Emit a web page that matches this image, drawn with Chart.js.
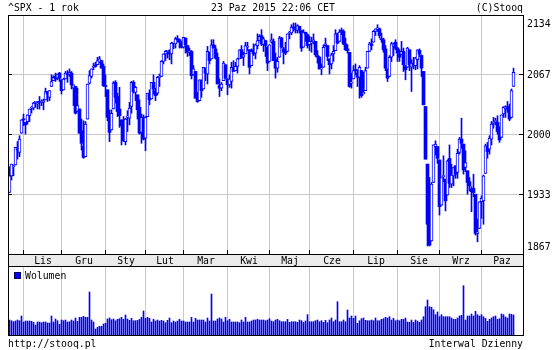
<!DOCTYPE html>
<html lang="pl">
<head>
<meta charset="UTF-8">
<title>^SPX - 1 rok</title>
<script src="https://cdn.jsdelivr.net/npm/chart.js"></script>
<style>
    body { margin: 0; background: #fff; }
    #wrap { position: relative; width: 560px; height: 350px; font-family: 'DejaVu Sans Mono', monospace; font-size: 9.8px; color: #000; }
    canvas { position: absolute; left: 0; top: 0; }
    .txt { position: absolute; white-space: pre; line-height: 12px; }
</style>
</head>
<body>
<div id="wrap">
    <canvas id="price_chart" width="560" height="350"></canvas>
    <canvas id="volume_chart" width="560" height="350"></canvas>
    <div class="txt" style="left:8px; top:2px;">^SPX - 1 rok</div>
    <div class="txt" style="left:211px; top:2px;">23 Paz 2015 22:06 CET</div>
    <div class="txt" style="right:37px; top:2px;">(C)Stooq</div>
    <div class="txt" style="left:25px; top:270px;">Wolumen</div>
    <div class="txt" style="left:8px; top:338px;">http://stooq.pl</div>
    <div class="txt" style="right:37px; top:338px;">Interwal Dzienny</div>
</div>

<script>
// daily OHLC, 23 Oct 2014 .. 23 Oct 2015 (one line per month)
const open = [
    1931,1951,1962,1964,1983,1979,2002,
    2019,2015,2016,2023,2032,2032,2039,2037,2040,2039,2039,2042,2052,2045,2058,2065,2070,2068,2074,
    2066,2054,2067,2073,2072,2074,2056,2058,2028,2031,2005,1986,1974,2019,2062,2070,2081,2083,2084,2087,2089,2082,
    2059,2054,2022,2006,2031,2063,2046,2031,2018,2014,1992,2021,2020,2034,2063,2051,2048,2033,2003,2020,
    1996,2022,2049,2043,2063,2053,2050,2069,2070,2088,2097,2100,2099,2097,2110,2109,2115,2114,2110,
    2105,2116,2107,2099,2100,2072,2076,2044,2041,2065,2055,2080,2073,2099,2091,2108,2103,2093,2059,2056,2065,2084,
    2067,2060,2064,2081,2077,2082,2091,2102,2093,2097,2105,2102,2083,2102,2098,2107,2113,2119,2108,2113,2105,
    2088,2111,2112,2091,2080,2093,2116,2103,2100,2100,2122,2122,2129,2127,2125,2130,2125,2105,2123,2120,
    2108,2110,2111,2112,2095,2093,2079,2081,2107,2107,2091,2085,2097,2101,2121,2112,2125,2124,2109,2103,2099,2062,
    2067,2078,2074,2069,2077,2049,2053,2080,2100,2109,2111,2124,2127,2127,2115,2114,2103,2079,2070,2093,2106,2111,
    2104,2097,2096,2100,2083,2081,2102,2081,2086,2083,2090,2101,2095,2076,2034,1965,1899,1873,1943,1986,1986,
    1970,1916,1950,1947,1928,1972,1941,1951,1963,1955,1979,1995,1989,1961,1957,1944,1935,1936,1929,1882,1888,
    1920,1921,1954,1986,1983,1995,2014,2016,2015,2004,1997,2025,2031,2033,2034,2021,2058
];
const high = [
    1962,1965,1964,1985,1992,1999,2018,
    2025,2015,2024,2031,2034,2039,2040,2040,2046,2042,2043,2056,2052,2053,2072,2071,2074,2073,2075,
    2066,2068,2076,2077,2079,2076,2060,2058,2056,2031,2019,2017,2016,2061,2077,2079,2086,2087,2093,2094,2089,2085,
    2072,2054,2030,2030,2064,2065,2050,2057,2018,2022,2020,2029,2039,2064,2065,2058,2048,2042,2025,2024,
    2022,2050,2054,2063,2072,2056,2070,2073,2089,2097,2101,2101,2102,2111,2111,2117,2119,2115,2112,
    2117,2116,2107,2104,2101,2083,2076,2051,2066,2066,2081,2080,2106,2099,2114,2114,2107,2098,2067,2063,2088,2084,
    2067,2072,2087,2089,2087,2092,2102,2107,2099,2111,2111,2102,2103,2109,2109,2121,2120,2126,2117,2113,2106,
    2108,2121,2115,2098,2093,2118,2117,2105,2111,2121,2124,2132,2134,2134,2132,2130,2125,2126,2123,2121,
    2118,2117,2121,2112,2101,2094,2085,2108,2116,2107,2091,2098,2107,2126,2122,2126,2128,2126,2116,2108,2099,2074,
    2083,2085,2078,2083,2077,2075,2081,2100,2111,2115,2125,2127,2132,2128,2122,2116,2107,2079,2095,2111,2110,2114,
    2105,2102,2112,2104,2083,2105,2102,2090,2093,2093,2102,2103,2096,2076,2034,1965,1949,1943,1988,1993,1986,
    1970,1948,1975,1947,1970,1988,1965,1961,1963,1983,1997,2020,1989,1981,1957,1949,1938,1953,1929,1899,1920,
    1927,1952,1989,1991,1999,2016,2021,2020,2023,2010,2024,2034,2035,2040,2037,2055,2080
];
const low = [
    1931,1946,1951,1964,1971,1974,2002,
    2011,2001,2013,2016,2026,2030,2033,2031,2031,2035,2030,2042,2040,2041,2058,2065,2064,2066,2064,
    2049,2054,2067,2063,2070,2055,2035,2025,2028,2002,1982,1972,1974,2019,2061,2068,2078,2081,2084,2086,2080,2058,
    2046,2017,1992,2006,2031,2038,2022,2009,1988,1992,1988,2004,2012,2026,2050,2041,2019,2001,1990,1994,
    1981,2022,2036,2043,2049,2041,2048,2058,2070,2085,2089,2092,2090,2085,2103,2104,2111,2104,2104,
    2104,2098,2094,2095,2067,2072,2044,2039,2041,2045,2055,2065,2061,2085,2091,2104,2091,2061,2046,2053,2065,2067,
    2048,2057,2056,2076,2077,2074,2091,2092,2083,2097,2101,2073,2083,2095,2091,2103,2113,2107,2100,2094,2077,
    2088,2110,2089,2068,2075,2093,2104,2085,2096,2100,2115,2120,2124,2122,2122,2122,2100,2105,2112,2104,
    2101,2099,2109,2094,2086,2079,2072,2081,2106,2089,2073,2079,2088,2101,2109,2112,2120,2108,2101,2098,2057,2056,
    2067,2072,2058,2044,2045,2049,2053,2080,2100,2102,2111,2119,2124,2116,2111,2099,2077,2064,2070,2088,2095,2102,
    2088,2088,2096,2076,2066,2081,2077,2052,2079,2078,2079,2094,2070,2036,1971,1867,1867,1873,1943,1976,1966,
    1904,1916,1944,1909,1928,1937,1937,1939,1948,1948,1977,1984,1953,1956,1929,1933,1908,1926,1880,1872,1888,
    1900,1893,1954,1972,1977,1988,2008,2012,2001,1991,1997,2021,2021,2027,2017,2021,2058
];
const close = [
    1951,1965,1962,1985,1982,1995,2018,
    2018,2012,2024,2031,2032,2038,2040,2038,2039,2040,2041,2052,2049,2053,2064,2069,2067,2073,2068,
    2053,2067,2074,2072,2075,2060,2060,2026,2035,2002,1990,1973,2013,2061,2071,2079,2082,2082,2089,2091,2080,2059,
    2058,2021,2003,2026,2062,2045,2028,2023,2011,1993,2019,2023,2032,2063,2052,2057,2030,2002,2021,1995,
    2021,2050,2042,2063,2055,2047,2069,2069,2088,2097,2100,2100,2097,2110,2110,2115,2114,2111,2105,
    2117,2108,2099,2101,2071,2079,2044,2040,2066,2053,2081,2074,2100,2089,2108,2104,2092,2061,2056,2061,2086,2068,
    2060,2067,2081,2076,2082,2091,2102,2092,2096,2107,2105,2081,2100,2097,2108,2113,2118,2109,2115,2107,2086,
    2108,2114,2089,2080,2088,2116,2105,2099,2098,2121,2123,2129,2128,2126,2131,2126,2104,2123,2121,2107,
    2112,2110,2114,2096,2093,2079,2080,2105,2109,2094,2084,2096,2100,2121,2110,2123,2124,2109,2102,2101,2058,2063,
    2077,2077,2069,2081,2047,2051,2077,2100,2109,2107,2124,2127,2128,2119,2114,2102,2080,2068,2093,2109,2109,2104,
    2098,2093,2100,2084,2078,2104,2084,2086,2083,2092,2102,2097,2080,2036,1971,1893,1868,1941,1988,1989,1972,
    1914,1949,1951,1921,1969,1942,1952,1961,1953,1978,1995,1990,1958,1967,1943,1939,1932,1931,1882,1884,1920,
    1924,1951,1987,1980,1996,2013,2015,2017,2004,1994,2024,2033,2034,2031,2019,2053,2075
];
// daily volume, mln
const volume = [
    3450,3290,3060,3220,3450,3290,4370,
    2990,3220,3220,3220,3150,2920,2300,2990,2990,2830,2990,2990,2760,2760,4370,2990,3680,3290,2460,
    3450,3290,3450,2990,3060,3450,3220,3910,3150,4070,4070,4300,4070,4070,9890,3450,2990,1380,1770,2000,2000,2530,
    2690,3680,3910,3520,3680,3290,3610,3750,4070,3610,4600,3680,3380,3840,3290,3290,3380,3610,4070,5520,
    3840,4070,3840,2990,3610,3220,3450,3220,3380,3220,2830,3380,3910,2830,3220,2990,3220,3610,3220,
    3220,2990,2990,2990,4070,2990,3840,3450,3450,3450,3450,2990,3910,3220,9430,3220,3220,3680,3910,3680,2990,4070,
    3290,3610,2990,2990,2990,2990,2830,3450,2990,4070,2990,2990,3220,3450,3450,3610,3450,3450,3450,3290,3450,
    3750,3220,3060,3450,3610,3290,3060,3060,3060,3610,2920,3060,3060,3060,2920,3450,3290,2920,3220,4670,
    3060,3060,3060,3290,3450,3060,3290,2920,3380,2830,3450,3910,3060,3450,7660,3060,3060,3450,3060,5750,3910,4370,
    3840,4370,2690,3290,3750,3910,3380,3290,3290,3450,3290,3910,3290,3290,3610,3750,4070,3910,4210,3450,3840,3290,
    3450,3290,3610,3610,3910,2990,2920,3450,2920,3450,3220,2920,3450,4210,6510,8050,6510,6370,5820,4670,5290,
    4210,4670,4210,4210,4210,4210,3910,3610,3610,3910,4370,4530,11340,3450,4370,4370,4830,4370,5450,4670,4370,
    4670,4210,3840,3150,3610,3910,4210,4370,3610,3750,4830,4670,4140,3910,4830,4760,4600
];
const monthStarts = [7, 26, 48, 68, 87, 109, 130, 150, 172, 194, 215, 236];
const monthLabels = ['Lis', 'Gru', 'Sty', 'Lut', 'Mar', 'Kwi', 'Maj', 'Cze', 'Lip', 'Sie', 'Wrz', 'Paz'];
const priceTicks = [2134, 2072, 2000.5, 1929, 1867];
const priceTickLabels = ['2134', '2067', '2000', '1933', '1867'];

const blue = '#0000ff';
const grid = '#c8c8c8';
const font = '9.8px "DejaVu Sans Mono", monospace';
const xRange = { type: 'linear', min: -0.75, max: 256.75, offset: false, display: false };

const isUp = i => close[i] >= open[i];
const bodies = close.map((c, i) => ({ x: i, y: [Math.min(open[i], c), Math.max(open[i], c)] }));
const wicks = high.map((h, i) => ({ x: i, y: [low[i], h] }));

// grid, frame, month band and price labels
const priceFrame = {
    id: 'priceFrame',
    beforeDatasetsDraw(chart) {
        const { ctx, chartArea: a, scales: { x, y } } = chart;
        ctx.save();
        ctx.fillStyle = grid;
        monthStarts.forEach(k => ctx.fillRect(Math.floor(x.getPixelForValue(k)), a.top, 1, a.bottom - a.top));
        for (let i = 1; i < priceTicks.length - 1; i++) {
            ctx.fillRect(a.left, Math.floor(y.getPixelForValue(priceTicks[i])), a.right - a.left, 1);
        }
        ctx.restore();
    },
    afterDraw(chart) {
        const { ctx, chartArea: a, scales: { x, y } } = chart;
        ctx.save();
        ctx.fillStyle = '#ebebeb';
        ctx.fillRect(a.left, a.bottom, a.right - a.left, 12);
        ctx.fillStyle = '#000';
        ctx.fillRect(a.left, a.top, a.right - a.left + 1, 1);
        ctx.fillRect(a.left, a.bottom, a.right - a.left + 1, 1);
        ctx.fillRect(a.left, a.bottom + 12, a.right - a.left + 1, 1);
        ctx.fillRect(a.left, a.top, 1, a.bottom + 12 - a.top);
        ctx.fillRect(a.right, a.top, 1, a.bottom + 12 - a.top);
        for (let i = 1; i < priceTicks.length - 1; i++) {
            const py = Math.floor(y.getPixelForValue(priceTicks[i]));
            ctx.fillRect(a.left, py, 4, 1);
            ctx.fillRect(a.right - 4, py, 4, 1);
        }
        monthStarts.forEach(k => ctx.fillRect(Math.floor(x.getPixelForValue(k)), a.bottom - 4, 1, 4));

        ctx.font = font;
        ctx.textAlign = 'left';
        priceTicks.forEach((v, i) => {
            ctx.fillText(priceTickLabels[i], 527, Math.round(y.getPixelForValue(v) + 3.6));
        });
        ctx.textAlign = 'center';
        monthStarts.forEach((k, i) => {
            const x0 = x.getPixelForValue(k);
            const x1 = i + 1 < monthStarts.length ? x.getPixelForValue(monthStarts[i + 1]) : a.right;
            ctx.fillText(monthLabels[i], Math.round((x0 + x1) / 2), a.bottom + 10);
        });
        ctx.restore();
    }
};

new Chart(document.getElementById('price_chart'), {
    type: 'bar',
    data: {
        datasets: [
            {
                label: 'body',
                data: bodies,
                backgroundColor: c => isUp(c.dataIndex) ? '#fff' : blue,
                borderColor: blue,
                borderWidth: c => isUp(c.dataIndex) ? 1 : 0,
                borderSkipped: false,
                barThickness: 3,
                minBarLength: 1,
                grouped: false
            },
            {
                label: 'wick',
                data: wicks,
                backgroundColor: blue,
                barThickness: 1,
                grouped: false
            }
        ]
    },
    options: {
        responsive: false,
        animation: false,
        devicePixelRatio: 1,
        events: [],
        layout: { padding: { left: 8, right: 37, top: 15, bottom: 96 } },
        plugins: { legend: { display: false }, tooltip: { enabled: false } },
        scales: {
            x: xRange,
            y: { min: 1857.4, max: 2143.6, display: false }
        }
    },
    plugins: [priceFrame]
});

// volume panel
const volumeFrame = {
    id: 'volumeFrame',
    beforeDatasetsDraw(chart) {
        const { ctx, chartArea: a, scales: { x } } = chart;
        ctx.save();
        ctx.fillStyle = grid;
        monthStarts.forEach(k => ctx.fillRect(Math.floor(x.getPixelForValue(k)), a.top + 1, 1, a.bottom - a.top));
        ctx.restore();
    },
    afterDraw(chart) {
        const { ctx, chartArea: a } = chart;
        ctx.save();
        ctx.fillStyle = '#000';
        ctx.fillRect(a.left, a.top, 1, a.bottom - a.top + 1);
        ctx.fillRect(a.right, a.top, 1, a.bottom - a.top + 1);
        ctx.fillRect(a.left, a.bottom, a.right - a.left + 1, 1);
        ctx.fillStyle = '#000060';
        ctx.fillRect(14, 272, 7, 7);
        ctx.fillStyle = blue;
        ctx.fillRect(15, 273, 5, 5);
        ctx.restore();
    }
};

new Chart(document.getElementById('volume_chart'), {
    type: 'bar',
    data: {
        datasets: [{
            label: 'Wolumen',
            data: volume.map((v, i) => ({ x: i, y: v })),
            backgroundColor: blue,
            barThickness: 1,
            grouped: false
        }]
    },
    options: {
        responsive: false,
        animation: false,
        devicePixelRatio: 1,
        events: [],
        layout: { padding: { left: 8, right: 37, top: 266, bottom: 15 } },
        plugins: { legend: { display: false }, tooltip: { enabled: false } },
        scales: {
            x: xRange,
            y: { min: 0, max: 15870, display: false }
        }
    },
    plugins: [volumeFrame]
});
</script>
</body>
</html>
